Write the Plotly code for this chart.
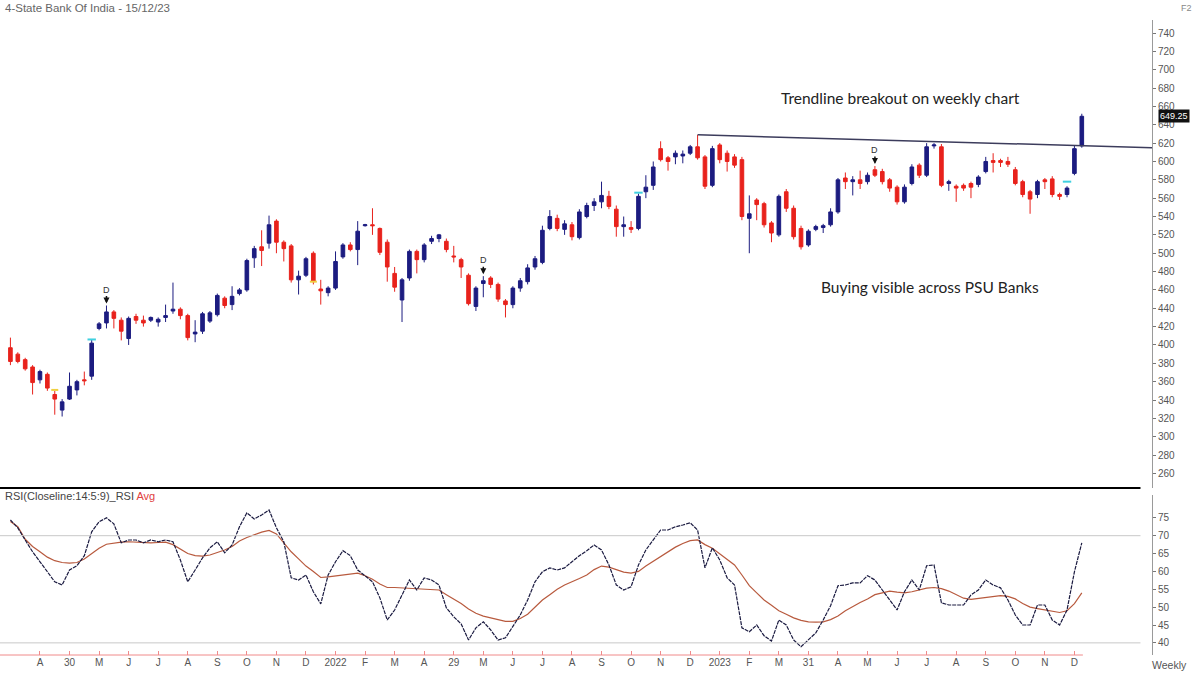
import plotly.graph_objects as go

# ---------------- data ----------------
week_idx = list(range(146))

opens = [397,390,384,376,362,368,346,329,341,351,362,366,418,424,436,427,407,431,427,427,
         425,430,437,439,432,412,415,426,433,451,444,456,460,495,507,511,535,512,508,471,
         476,500,461,457,462,496,509,504,530,531,527,512,478,449,473,502,493,513,516,513,
         497,493,476,442,467,473,466,448,444,462,469,485,490,527,538,526,531,517,540,552,
         556,562,548,529,528,527,567,574,614,604,605,606,609,616,605,574,618,609,605,602,
         538,558,554,533,520,567,549,527,509,526,528,531,545,582,578,580,578,591,589,580,
         572,556,576,596,585,617,616,576,573,574,576,575,589,601,601,600,591,578,567,564,
         580,581,564,564,587,617]
highs = [408,392,386,378,373,370,350,341,370,362,371,406,425,443,438,430,431,434,432,431,
         430,444,468,441,434,427,436,437,456,453,464,462,494,508,525,541,537,514,510,481,
         496,502,471,464,502,511,512,535,532,549,528,515,485,473,504,504,511,519,521,516,
         508,495,478,464,475,475,468,450,464,473,488,497,530,547,542,536,534,548,555,560,
         578,568,552,540,535,565,585,600,622,606,612,612,618,629,607,617,620,612,608,605,
         563,560,556,535,564,570,552,530,526,531,532,549,582,588,584,590,588,595,592,582,
         574,575,597,598,620,620,619,580,575,576,578,585,605,609,603,605,594,580,569,580,
         582,584,566,573,617,652]
lows = [378,380,372,346,358,350,324,322,340,345,356,362,416,418,418,405,400,423,420,425,
        420,425,434,428,405,403,412,424,431,440,438,454,458,484,486,505,500,491,468,455,
        474,466,444,453,460,494,502,487,529,520,498,469,458,425,470,478,490,510,512,501,
        490,473,443,437,452,462,447,430,440,458,466,482,488,525,524,520,514,515,538,546,
        549,548,518,518,522,525,560,569,600,590,597,598,607,602,570,572,598,589,593,536,
        500,536,528,512,518,545,515,504,507,524,522,529,543,570,563,570,575,583,575,567,
        553,554,574,582,583,614,572,568,556,568,560,572,587,588,594,594,574,561,543,560,
        570,561,558,561,585,615]
closes = [382,382,374,359,371,353,341,338,355,360,361,402,423,436,429,415,429,427,424,430,
          428,432,439,432,408,414,434,435,454,443,453,460,492,505,503,531,512,505,471,475,
          494,469,459,462,491,509,504,524,531,530,501,485,463,471,502,493,509,516,520,504,
          496,485,445,462,470,466,450,444,462,470,484,494,525,540,527,532,518,545,552,556,
          563,551,529,531,526,562,572,594,602,600,609,608,616,604,573,614,602,600,596,540,
          543,553,531,522,562,549,518,507,524,529,530,545,580,578,580,576,585,585,578,571,
          556,572,594,585,616,618,574,578,571,571,572,583,600,599,599,597,576,564,559,578,
          578,564,562,571,614,649.25]

rsi = [74.4,72.2,68.8,65.5,62.7,59.9,57.1,56.2,60.4,61.6,64.4,71.1,73.9,75.0,73.3,68.0,68.8,68.8,68.0,68.8,
       68.3,68.8,68.3,63.2,57.1,60.4,63.8,66.6,68.3,65.2,67.4,72.5,76.4,74.7,75.8,77.2,72.2,68.3,58.2,57.6,
       59.0,54.3,50.9,59.0,62.7,65.8,64.4,60.4,58.8,57.1,52.6,46.4,49.2,53.4,57.6,54.8,58.2,57.6,56.2,49.8,
       47.3,45.3,40.8,44.2,45.9,43.6,40.8,41.4,44.5,47.8,52.0,57.1,59.9,61.0,60.4,61.0,62.7,64.4,65.8,67.4,
       66.0,61.8,56.2,54.8,55.7,61.8,66.0,68.8,71.6,71.6,72.5,73.0,73.6,71.6,61.0,66.6,63.2,58.2,56.2,44.2,
       43.1,45.0,42.0,40.5,46.4,45.0,40.8,38.9,40.8,42.8,46.4,50.4,56.0,56.2,56.8,56.8,58.8,57.6,54.8,52.0,
       49.2,54.3,57.6,54.8,61.6,61.8,51.2,50.6,50.6,50.6,53.4,54.8,57.6,56.2,55.4,52.0,47.8,45.0,45.0,50.6,
       50.6,46.4,45.0,49.2,59.9,68.0]
rsi_avg = [74.0,72.5,69.0,67.0,65.5,64.0,63.0,62.5,62.3,62.5,63.5,65.0,66.5,67.6,68.0,68.2,68.3,68.2,68.0,68.0,
           68.1,68.2,67.5,66.2,65.0,64.4,64.3,64.6,65.3,66.0,67.0,68.5,69.5,70.3,71.0,71.5,70.5,68.0,65.5,63.5,
           61.5,60.0,58.3,58.5,58.8,59.0,59.3,59.5,58.8,57.8,56.5,55.5,55.5,55.4,55.2,55.0,55.0,54.9,54.8,53.5,
           52.3,51.0,49.5,48.3,47.5,47.0,46.5,46.0,46.0,46.8,48.0,50.0,52.0,53.5,55.0,56.2,57.0,58.0,59.0,60.5,
           61.5,61.2,60.5,59.8,59.5,60.0,61.5,62.8,64.0,65.5,66.8,67.8,68.6,68.8,67.5,66.5,65.0,63.5,61.8,59.0,
           56.0,54.0,52.0,50.5,49.0,48.0,47.0,46.3,45.9,45.8,45.9,46.5,47.5,49.0,50.2,51.3,52.3,53.5,54.0,54.5,
           54.2,54.0,54.3,54.8,55.3,55.5,55.2,54.5,53.5,52.5,52.2,52.4,52.8,53.0,53.2,53.0,52.3,51.0,50.0,49.6,
           49.2,48.7,48.5,49.0,51.0,54.0]

tick_idx = list(range(4, 145, 4))
tick_text = ["A","30","M","J","J","A","S","O","N","D","2022","F","M","A","29","M","J","J","A","S",
             "O","N","D","2023","F","M","31","A","M","J","J","A","S","O","N","D"]

trend_x = [93, 154.5]
trend_y = [629, 615]

d_marks_idx = [13, 64, 117]
cyan_idx = [11, 85, 143]
cyan_px = [406, 566, 578]
yellow_idx = [6, 41]
yellow_px = [351, 469]

price_ticks = list(range(260, 741, 20))
rsi_ticks = list(range(40, 76, 5))

# ---------------- figure ----------------
UP = "#1c1c80"
DN = "#e8221c"
fig = go.Figure()

fig.add_trace(go.Candlestick(
    x=week_idx, open=opens, high=highs, low=lows, close=closes,
    increasing=dict(line=dict(color=UP, width=1), fillcolor=UP),
    decreasing=dict(line=dict(color=DN, width=1), fillcolor=DN),
    whiskerwidth=0, xaxis="x", yaxis="y", showlegend=False, hoverinfo="skip"))

fig.add_trace(go.Scatter(x=trend_x, y=trend_y, mode="lines",
                         line=dict(color="#3c3c5c", width=1.5),
                         xaxis="x", yaxis="y", showlegend=False, hoverinfo="skip"))

fig.add_trace(go.Scatter(x=cyan_idx, y=cyan_px, mode="markers",
                         marker=dict(symbol="line-ew", size=6, line=dict(color="#3fd0e0", width=2)),
                         xaxis="x", yaxis="y", showlegend=False, hoverinfo="skip"))
fig.add_trace(go.Scatter(x=yellow_idx, y=yellow_px, mode="markers",
                         marker=dict(symbol="line-ew", size=5, line=dict(color="#f0d040", width=2)),
                         xaxis="x", yaxis="y", showlegend=False, hoverinfo="skip"))

fig.add_trace(go.Scatter(x=week_idx, y=rsi_avg, mode="lines",
                         line=dict(color="#b85a3e", width=1.2),
                         xaxis="x2", yaxis="y2", showlegend=False, hoverinfo="skip"))
fig.add_trace(go.Scatter(x=week_idx, y=rsi, mode="lines",
                         line=dict(color="#1a1a40", width=1.2, dash="4px,1px"),
                         xaxis="x2", yaxis="y2", showlegend=False, hoverinfo="skip"))

XR = [-1.41, 154.5]
axfont = dict(family="Liberation Sans, Arial, sans-serif", size=10, color="#555")

fig.update_layout(
    width=1198, height=675,
    margin=dict(l=0, r=46, t=20, b=20),
    paper_bgcolor="white", plot_bgcolor="white",
    showlegend=False,
    xaxis=dict(domain=[0, 1], anchor="y", range=XR, showticklabels=False,
               showgrid=False, zeroline=False, showline=False, ticks="",
               rangeslider=dict(visible=False)),
    yaxis=dict(domain=[0.263, 1], anchor="x", side="right", range=[244.1, 754.2],
               tickvals=price_ticks, ticktext=[str(v) for v in price_ticks],
               showgrid=False, zeroline=False, showline=True, linecolor="#9a9a9a", linewidth=1,
               ticks="outside", ticklen=3, tickcolor="#777", tickfont=axfont),
    xaxis2=dict(domain=[0, 1], anchor="y2", range=XR, matches="x",
                tickvals=tick_idx, ticktext=tick_text, tickangle=0,
                showgrid=False, zeroline=False, showline=False,
                ticks="inside", ticklen=4, tickcolor="#f08a8a", tickfont=axfont),
    yaxis2=dict(domain=[0, 0.252], anchor="x2", side="right", range=[36.6, 81.4],
                tickvals=rsi_ticks, ticktext=[str(v) for v in rsi_ticks],
                showgrid=False, zeroline=False, showline=True, linecolor="#9a9a9a", linewidth=1,
                ticks="outside", ticklen=3, tickcolor="#777", tickfont=axfont),
)

shapes = [
    dict(type="line", xref="paper", yref="paper", x0=0, x1=0.99, y0=0.263, y1=0.263,
         line=dict(color="black", width=2)),
    dict(type="line", xref="paper", yref="y2", x0=0, x1=0.99, y0=70, y1=70,
         line=dict(color="#c8c8c8", width=1)),
    dict(type="line", xref="paper", yref="y2", x0=0, x1=0.99, y0=40, y1=40,
         line=dict(color="#c8c8c8", width=1)),
    dict(type="line", xref="paper", yref="paper", x0=0, x1=0.94, y0=0, y1=0,
         line=dict(color="#f08a8a", width=1)),
]
fig.update_layout(shapes=shapes)

ann = []
for i in d_marks_idx:
    ann.append(dict(x=i, y=highs[i], xref="x", yref="y", text="D", showarrow=True,
                    arrowhead=2, arrowsize=0.8, arrowwidth=1.5, arrowcolor="#111",
                    ax=0, ay=-16, standoff=2,
                    font=dict(family="Liberation Sans, Arial", size=9, color="#333")))
ann += [
    dict(x=0.003, y=1.019, xref="paper", yref="paper", xanchor="left", yanchor="middle",
         text="4-State Bank Of India - 15/12/23", showarrow=False,
         font=dict(family="Liberation Sans, Arial", size=11.5, color="#666")),
    dict(x=1.03, y=1.019, xref="paper", yref="paper", xanchor="center", yanchor="middle",
         text="F2", showarrow=False,
         font=dict(family="Liberation Sans, Arial", size=9, color="#888")),
    dict(x=0.003, y=0.2505, xref="paper", yref="paper", xanchor="left", yanchor="middle",
         text="RSI(Closeline:14:5:9)_RSI <span style='color:#e04040'>Avg</span>", showarrow=False,
         font=dict(family="Liberation Sans, Arial", size=11, color="#444")),
    dict(x=1.0156, y=-0.0157, xref="paper", yref="paper", xanchor="center", yanchor="middle",
         text="Weekly", showarrow=False,
         font=dict(family="Liberation Sans, Arial", size=10.5, color="#555")),
    dict(x=1.0, y=closes[-1], xref="paper", yref="y", xanchor="left", yanchor="middle",
         xshift=6, text=f"{closes[-1]:.2f}", showarrow=False, bgcolor="#111",
         borderpad=1, font=dict(family="Liberation Sans, Arial", size=9, color="white")),
    dict(x=120.4, y=669, xref="x", yref="y", text="Trendline breakout on weekly chart",
         showarrow=False, font=dict(family="Lato, Open Sans, sans-serif", size=15.5, color="#222")),
    dict(x=124.4, y=463, xref="x", yref="y", text="Buying visible across PSU Banks",
         showarrow=False, font=dict(family="Lato, Open Sans, sans-serif", size=15.5, color="#222")),
]
fig.update_layout(annotations=ann)

fig.write_html("out.html")
